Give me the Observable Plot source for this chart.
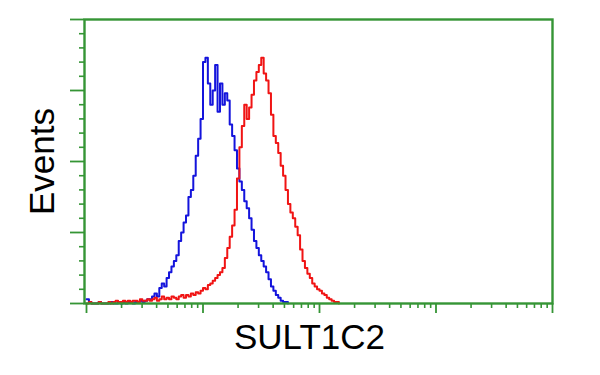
<!DOCTYPE html>
<html>
<head>
<meta charset="utf-8">
<script src="https://cdn.jsdelivr.net/npm/d3@7"></script>
<script src="https://cdn.jsdelivr.net/npm/@observablehq/plot@0.6"></script>
<style>
  html, body { margin: 0; padding: 0; background: #fff; }
  #chart { width: 600px; height: 375px; }
</style>
</head>
<body>
<div id="chart"></div>
<script>
// Histogram channels: 48 channels per decade of fluorescence intensity (log axis 10^0 .. 10^4)
const channelsPerDecade = 48;

// Blue histogram counts (channel 0 upward)
const blueCounts = [3,1,0,0,0,1,0,0,0,0,1,0,0,1,0,1,0,1,1,0,
  1,1,2,1,2,3,3,5,7,5,11,14,12,18,22,26,30,34,44,50,
  57,62,75,80,90,104,116,130,170,173,155,140,150,168,135,155,140,148,143,126,
  118,108,95,86,80,72,67,60,52,44,39,34,30,26,22,17,12,9,6,4,
  2,1,1,0];

// Red histogram counts (channel 0 upward)
const redCounts = [0,1,0,0,0,1,0,0,0,1,0,1,2,1,1,2,1,2,1,2,
  2,1,3,2,2,3,2,3,4,2,3,5,3,4,3,5,4,3,5,6,
  4,6,5,7,6,8,7,9,11,10,13,14,16,18,20,22,25,32,39,47,
  55,66,88,110,125,140,130,138,147,157,163,168,173,162,157,148,133,118,113,106,
  97,90,80,70,64,60,54,48,38,30,25,21,18,14,12,10,9,7,6,4,
  3,2,1,1,0];

const xMajorTicks = [1, 10, 100, 1000, 10000];
const xMinorMultipliers = [2, 3, 4, 5, 6, 7, 8, 9];
const yMajorTicks = [0, 50, 100, 150, 200];
const yMinorTicks = [10, 20, 30, 40, 60, 70, 80, 90, 110, 120, 130, 140, 160, 170, 180, 190];

const xLabel = "SULT1C2";
const yLabel = "Events";

const green = "#359535";

const toRows = (counts) => counts.map((c, i) => ({x: Math.pow(10, i / channelsPerDecade), y: c}));
const blue = toRows(blueCounts);
const red = toRows(redCounts);

const xMinorTicks = xMajorTicks.slice(0, -1).flatMap(d => xMinorMultipliers.map(m => m * d));

const chart = Plot.plot({
  width: 600,
  height: 375,
  marginLeft: 84,
  marginRight: 48,
  marginTop: 19,
  marginBottom: 72,
  style: {background: "#fff", fontFamily: "Liberation Sans, Arial, sans-serif"},
  x: {type: "log", domain: [1, 10000], insetLeft: 2},
  y: {domain: [0, 200]},
  marks: [
    Plot.axisX({ticks: xMajorTicks, tickSize: 10, tickFormat: () => "", stroke: green, strokeWidth: 1.8, label: null}),
    Plot.axisX({ticks: xMinorTicks, tickSize: 5, tickFormat: () => "", stroke: green, strokeWidth: 1.6, label: null}),
    Plot.axisY({ticks: yMajorTicks, tickSize: 14, tickFormat: () => "", stroke: green, strokeWidth: 1.8, label: null}),
    Plot.axisY({ticks: yMinorTicks, tickSize: 5, tickFormat: () => "", stroke: green, strokeWidth: 1.6, label: null}),
    Plot.lineY(blue, {x: "x", y: "y", curve: "step-after", stroke: "#1414dc", strokeWidth: 2}),
    Plot.lineY(red, {x: "x", y: "y", curve: "step-after", stroke: "#f01414", strokeWidth: 2}),
    Plot.frame({stroke: green, strokeWidth: 2.4}),
    Plot.text([xLabel], {text: d => d, frameAnchor: "bottom", textAnchor: "middle", dx: -9, dy: 45, fontSize: 35, fill: "#000", lineAnchor: "bottom"}),
    Plot.text([yLabel], {text: d => d, frameAnchor: "left", textAnchor: "middle", dx: -31, rotate: -90, fontSize: 35, fill: "#000", lineAnchor: "bottom"})
  ]
});
document.getElementById("chart").appendChild(chart);
</script>
</body>
</html>
